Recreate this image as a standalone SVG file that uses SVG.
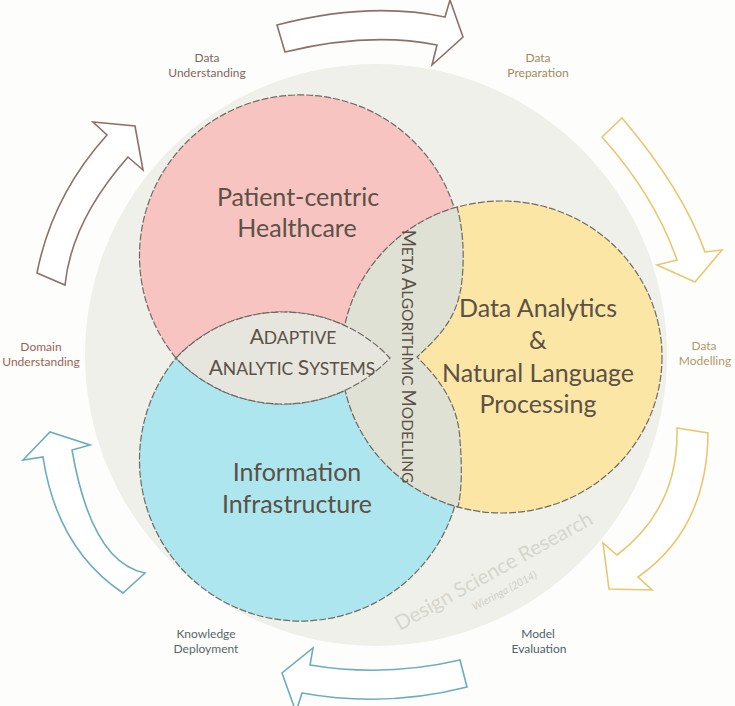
<svg xmlns="http://www.w3.org/2000/svg" width="735" height="706" viewBox="0 0 735 706">
<style>
.big{font-family:Lato,"Liberation Sans",sans-serif;font-size:25px;fill:#5b5146;text-anchor:middle}
.sc{font-family:Lato,"Liberation Sans",sans-serif;fill:#5b5146;text-anchor:middle}
.lbl{font-family:Lato,"Liberation Sans",sans-serif;font-size:12px;text-anchor:middle}
.edge{stroke:#6e6a62;stroke-width:1.2;stroke-dasharray:7 2}
.arr{fill:#ffffff;stroke-width:1.6;stroke-linejoin:miter}
.brown{stroke:#8e706a}
.gold{stroke:#e8c770}
.cyan{stroke:#6aaebb}
</style>
<rect x="0" y="0" width="735" height="706" fill="#fdfdfb"/>
<g id="design-science-research">
<circle cx="376" cy="355" r="291" fill="#f0f0eb"/>
<text transform="translate(497,577) rotate(-29)" font-family="Lato,'Liberation Sans',sans-serif" font-size="20.5" fill="#d6d6cc" text-anchor="middle">Design Science Research</text>
<text transform="translate(506,594) rotate(-28)" font-family="Lato,'Liberation Sans',sans-serif" font-size="10.5" font-style="italic" fill="#cfcfc4" text-anchor="middle">Wieringa (2014)</text>
</g>
<g id="patient-centric-healthcare">
<path class="edge" fill="#f7c4c1" d="M176,358 A161,161 0 1 1 425,358 L390,358 A147.4,147.4 0 0 0 176,358 Z"/>
<text class="big" x="298" y="206">Patient-centric</text>
<text class="big" x="297" y="237">Healthcare</text>
</g>
<g id="information-infrastructure">
<path class="edge" fill="#ade6ef" d="M176,358 A147.4,147.4 0 0 0 390,358 L425,358 A161,161 0 1 1 176,358 Z"/>
<text class="big" x="297" y="481">Information</text>
<text class="big" x="297" y="513">Infrastructure</text>
</g>
<g id="data-analytics-nlp">
<ellipse class="edge" fill="#fce6a5" cx="502" cy="357" rx="160" ry="156"/>
<text class="big" x="538" y="317">Data Analytics</text>
<text class="big" x="538" y="349">&amp;</text>
<text class="big" x="538" y="382">Natural Language</text>
<text class="big" x="538" y="413">Processing</text>
</g>
<g id="meta-algorithmic-modelling">
<path class="edge" fill="#e0e1d5" d="M457,207 A160,156 0 0 0 458,507 C462,490 462,465 460,440 C458,400 435,375 417,357 C437,338 458,320 462,280 C465,250 462,225 457,207 Z"/>
<text class="sc" transform="translate(402,356.5) rotate(90)"><tspan font-size="18.5">M</tspan><tspan font-size="15.5">ETA </tspan><tspan font-size="18.5">A</tspan><tspan font-size="15.5">LGORITHMIC </tspan><tspan font-size="18.5">M</tspan><tspan font-size="15.5">ODELLING</tspan></text>
</g>
<g id="adaptive-analytic-systems">
<path class="edge" fill="#e6e6de" d="M176,358 A147.4,147.4 0 0 1 390,358 A147.4,147.4 0 0 1 176,358 Z"/>
<text class="sc" x="293" y="344"><tspan font-size="21">A</tspan><tspan font-size="17.5">DAPTIVE</tspan></text>
<text class="sc" x="292" y="375"><tspan font-size="21">A</tspan><tspan font-size="17.5">NALYTIC </tspan><tspan font-size="21">S</tspan><tspan font-size="17.5">YSTEMS</tspan></text>
</g>
<g id="connectors">
<path class="arr brown" d="M277,25 Q369,1 445,17 L450,0 L463,37 L432,65 L437,45 Q369,31.5 285,52 Z"/>
<path class="arr gold" d="M602,137 L622,118 Q682.5,189 705,252 L722,250 L695,282 L657,265 L677,260 Q654.5,195.5 602,137 Z"/>
<path class="arr gold" d="M677,428 L708,433 Q707,529 638,577 L652,590 L609,589 L603,543 L617,555 Q679,508 677,428 Z"/>
<path class="arr cyan" d="M460,660 Q385,677.5 310,665 L313,648 L282,673 L296,712 L302,693 Q385,708 467,687 Z"/>
<path class="arr cyan" d="M123,593 Q57,549 43,457 L23,460 L50,432 L90,445 L72,450 Q91.5,562.5 145,573 Z"/>
<path class="arr brown" d="M37,273 Q52,196 107,135 L93,122 L135,126 L143,170 L128,157 Q71.5,221 65,285 Z"/>
</g>
<g id="label-data-understanding">
<text class="lbl" fill="#85655e" x="207" y="62">Data</text>
<text class="lbl" fill="#85655e" x="207" y="77">Understanding</text>
</g>
<g id="label-data-preparation">
<text class="lbl" fill="#a08a5c" x="538" y="62">Data</text>
<text class="lbl" fill="#a08a5c" x="538" y="77">Preparation</text>
</g>
<g id="label-data-modelling">
<text class="lbl" fill="#b09a6a" x="704" y="350">Data</text>
<text class="lbl" fill="#b09a6a" x="705" y="365">Modelling</text>
</g>
<g id="label-model-evaluation">
<text class="lbl" fill="#4d626c" x="538" y="638">Model</text>
<text class="lbl" fill="#4d626c" x="539" y="653">Evaluation</text>
</g>
<g id="label-knowledge-deployment">
<text class="lbl" fill="#56676c" x="206" y="638">Knowledge</text>
<text class="lbl" fill="#56676c" x="206" y="653">Deployment</text>
</g>
<g id="label-domain-understanding">
<text class="lbl" fill="#9c6258" x="41" y="351">Domain</text>
<text class="lbl" fill="#9c6258" x="41" y="366">Understanding</text>
</g>
</svg>
